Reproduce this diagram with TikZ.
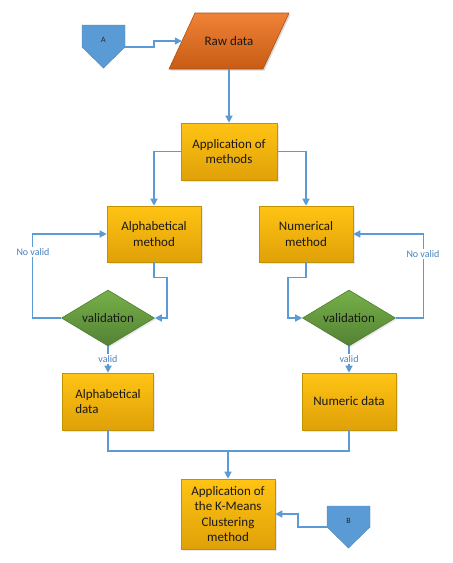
\documentclass[tikz,border=0pt]{standalone}
\usepackage{fontspec}
\setmainfont{Carlito}
\usetikzlibrary{shapes.geometric,arrows.meta,shadows}
\definecolor{lineblue}{RGB}{91,155,213}
\definecolor{labblue}{RGB}{72,130,190}
\definecolor{goldtop}{RGB}{255,196,20}
\definecolor{goldbot}{RGB}{224,160,8}
\definecolor{goldedge}{RGB}{196,146,0}
\definecolor{orgtop}{RGB}{240,130,55}
\definecolor{orgbot}{RGB}{200,92,20}
\definecolor{orgedge}{RGB}{174,80,20}
\definecolor{grntop}{RGB}{118,176,72}
\definecolor{grnbot}{RGB}{84,130,53}
\definecolor{grnedge}{RGB}{80,126,50}
\begin{document}
\begin{tikzpicture}[x=1pt,y=-1pt,
  box/.style={rectangle, draw=goldedge, line width=0.6pt, top color=goldtop, bottom color=goldbot,
    align=center, font=\fontsize{13}{15.5}\selectfont, inner sep=2pt, text=black!90,
    drop shadow={opacity=0.18, shadow xshift=1.5pt, shadow yshift=-1.5pt}},
  dia/.style={diamond, draw=grnedge, line width=0.6pt, top color=grntop, bottom color=grnbot,
    shape aspect=1.66, minimum width=93pt, minimum height=56pt, inner sep=0pt,
    font=\fontsize{13}{15.5}\selectfont, text=black!90,
    drop shadow={opacity=0.18, shadow xshift=1.5pt, shadow yshift=-1.5pt}},
  conn/.style={draw=lineblue, line width=1.3pt, -{Triangle[length=7pt,width=7pt]}},
  plainline/.style={draw=lineblue, line width=1.3pt},
  lab/.style={fill=white, text=labblue, font=\fontsize{10}{12}\selectfont, inner sep=1pt},
  offpage/.style={fill=lineblue, draw=lineblue!85!black, line width=0.4pt}
]
\useasboundingbox[fill=white] (0,0) rectangle (453,563);

% Raw data parallelogram
\node (raw) [minimum width=94pt, minimum height=56pt, inner sep=0pt, font=\fontsize{13}{15.5}\selectfont] at (229,41) {};
\fill[black, opacity=0.15] ([shift={(-32.5,-26.5)}]raw.center) -- ([shift={(61.5,-26.5)}]raw.center) -- ([shift={(35.5,29.5)}]raw.center) -- ([shift={(-58.5,29.5)}]raw.center) -- cycle;
\path[draw=orgedge, line width=0.6pt, top color=orgtop, bottom color=orgbot]
  ([shift={(-34,-28)}]raw.center) -- ([shift={(60,-28)}]raw.center) -- ([shift={(34,28)}]raw.center) -- ([shift={(-60,28)}]raw.center) -- cycle;
\node (rawtext) [font=\fontsize{13}{15.5}\selectfont, text=black!90] at (raw.center) {Raw data};

% Off-page connector A
\path[offpage] (82,25) -- (125,25) -- (125,47) -- (103.5,68) -- (82,47) -- cycle;
\node (A) [font=\fontsize{8}{9}\selectfont, text=black!85] at (103.5,40) {A};
\coordinate (Aout) at (125,47);

% Boxes
\node (apm) [box, minimum width=96pt, minimum height=57pt] at (229,151.5) {Application of\\methods};
\node (alpha) [box, minimum width=94pt, minimum height=56pt] at (154,234) {Alphabetical\\method};
\node (num) [box, minimum width=94pt, minimum height=56pt] at (306,234) {Numerical\\method};
\node (dl) [dia] at (108,318) {validation};
\node (dr) [dia] at (349,318) {validation};
\node (adata) [box, minimum width=91pt, minimum height=57pt, align=left] at (108,401.5) {Alphabetical\\data};
\node (ndata) [box, minimum width=94pt, minimum height=57pt] at (349,401.5) {Numeric data};
\node (km) [box, minimum width=94pt, minimum height=70pt] at (228,514) {Application of\\the K-Means\\Clustering\\method};

% Off-page connector B
\path[offpage] (327,506) -- (370,506) -- (370,527) -- (348.5,548) -- (327,527) -- cycle;
\node (B) [font=\fontsize{8}{9}\selectfont, text=black!85] at (348.5,521) {B};
\coordinate (Bout) at (327,527);

% Connectors
\draw[conn] (Aout) -- ++(29,0) |- (raw.west);
\draw[conn] (raw.south) -- (apm.north);
\draw[conn] (apm.west) -| (alpha.north);
\draw[conn] (apm.east) -| (num.north);
\draw[conn] (alpha.south) -- ++(0,15) -- ++(13,0) |- (dl.east);
\draw[conn] (num.south) -- ++(0,15) -- ++(-18,0) |- (dr.west);
\draw[conn] (dl.west) -- ++(-29,0) |- (alpha.west);
\draw[conn] (dr.east) -- ++(28,0) |- (num.east);
\node (nvl) [lab] at (33,252) {No valid};
\node (nvr) [lab] at (423,254) {No valid};
\draw[conn] (dl.south) -- (adata.north);
\draw[conn] (dr.south) -- (ndata.north);
\node (vl) [lab] at (108,359) {valid};
\node (vr) [lab] at (349,359) {valid};
\coordinate (join) at (228,451);
\draw[plainline] (adata.south) |- (join);
\draw[plainline] (ndata.south) |- (join);
\draw[conn] (join) -- (km.north);
\draw[conn] (Bout) -- ++(-29,0) |- (km.east);
\end{tikzpicture}
\end{document}
